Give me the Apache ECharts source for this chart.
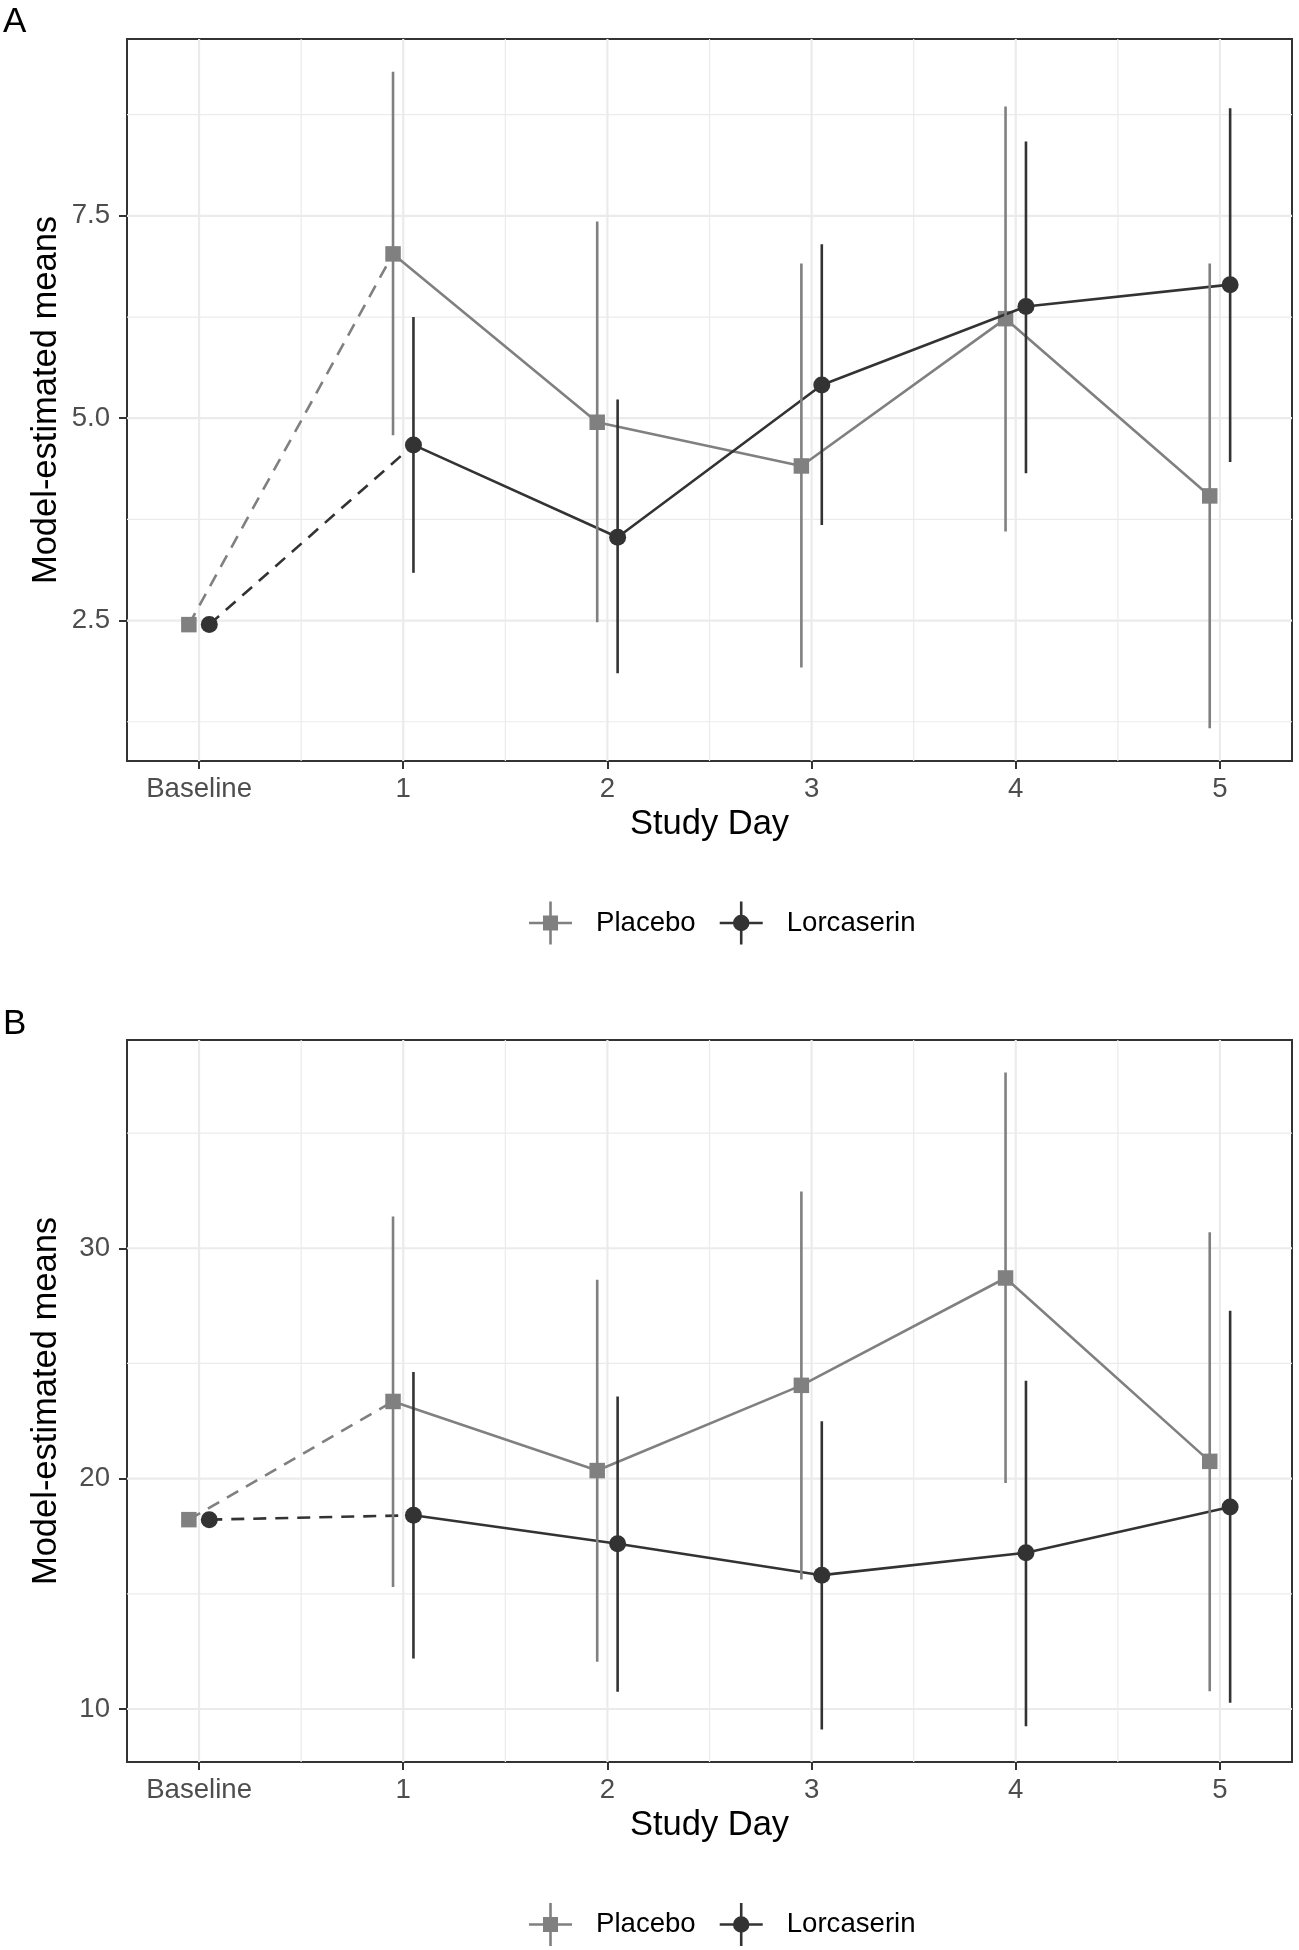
<!DOCTYPE html>
<html>
<head>
<meta charset="utf-8">
<script src="https://cdn.jsdelivr.net/npm/echarts@6/dist/echarts.min.js"></script>
<style>
html,body{margin:0;padding:0;background:#ffffff;}
#chart{width:1299px;height:1950px;}
</style>
</head>
<body>
<div id="chart"></div>
<script>
// ---------- data ----------
const categories = ['Baseline', '1', '2', '3', '4', '5'];

// Panel A
const placeboA    = [2.45, 7.03, 4.95, 4.41, 6.23, 4.04];
const placeboA_lo = [null, 4.79, 2.48, 1.92, 3.60, 1.17];
const placeboA_hi = [null, 9.28, 7.43, 6.91, 8.85, 6.91];
const lorcA       = [2.45, 4.67, 3.53, 5.41, 6.38, 6.65];
const lorcA_lo    = [null, 3.09, 1.85, 3.68, 4.32, 4.46];
const lorcA_hi    = [null, 6.25, 5.23, 7.15, 8.42, 8.83];

// Panel B
const placeboB    = [18.22, 23.35, 20.35, 24.05, 28.71, 20.75];
const placeboB_lo = [null, 15.30, 12.05, 15.62, 19.81, 10.77];
const placeboB_hi = [null, 31.38, 28.63, 32.46, 37.63, 30.70];
const lorcB       = [18.22, 18.41, 17.17, 15.81, 16.78, 18.77];
const lorcB_lo    = [null, 12.19, 10.75, 9.11, 9.25, 10.27];
const lorcB_hi    = [null, 24.63, 23.57, 22.49, 24.25, 27.29];

// tick labels / gridlines
const xTicks      = [0, 1, 2, 3, 4, 5];
const xMinor      = [0.5, 1.5, 2.5, 3.5, 4.5];
const yTicksA     = [2.5, 5.0, 7.5];
const yMinorA     = [1.25, 3.75, 6.25, 8.75];
const yTicksB     = [10, 20, 30];
const yMinorB     = [15, 25, 35];

// ---------- styling ----------
const FONT = "'Liberation Sans', Arial, Helvetica, sans-serif";
const C_PLA = '#808080';
const C_LOR = '#333333';
const DODGE = 0.05;
const LW = 2.6;

const panels = [
  { pla: placeboA, plaLo: placeboA_lo, plaHi: placeboA_hi, lor: lorcA, lorLo: lorcA_lo, lorHi: lorcA_hi,
    yMin: 0.765, yMax: 9.685, yTicks: yTicksA, yMinor: yMinorA, fmt: v => v.toFixed(1),
    top: 39, label: 'A', labelTop: 5, legendTop: 901.5 },
  { pla: placeboB, plaLo: placeboB_lo, plaHi: placeboB_hi, lor: lorcB, lorLo: lorcB_lo, lorHi: lorcB_hi,
    yMin: 7.70, yMax: 39.04, yTicks: yTicksB, yMinor: yMinorB, fmt: v => String(Math.round(v)),
    top: 1040, label: 'B', labelTop: 1006.5, legendTop: 1903 }
];

const PLOT_H = 722;
const ICON_PLA = 'path://M0,20.2H43V22.8H0Z M20.2,0H22.8V43H20.2Z M14,14H29V29H14Z';
const ICON_LOR = 'path://M0,20.2H43V22.8H0Z M20.2,0H22.8V43H20.2Z M13.25,21.5A8.25,8.25 0 1,1 29.75,21.5A8.25,8.25 0 1,1 13.25,21.5Z';

function pts(vals, off) { return vals.map((v, i) => [i + off, v]); }
function errs(lo, hi, off) {
  const out = [];
  lo.forEach((l, i) => { if (l != null) out.push([i + off, l, hi[i]]); });
  return out;
}

const grids = [], xAxes = [], yAxes = [], series = [], titles = [], legends = [];

panels.forEach((p, k) => {
  grids.push({
    left: 127, top: p.top, width: 1165, height: PLOT_H,
    show: true, borderColor: '#333333', borderWidth: 2, backgroundColor: 'transparent',
    containLabel: false, outerBoundsMode: 'none'
  });
  xAxes.push({
    type: 'value', gridIndex: k, min: -0.353, max: 5.353,
    axisLine: { show: false, onZero: false },
    splitLine: { show: false },
    axisTick: { show: true, customValues: xTicks, length: 8, lineStyle: { color: '#333333', width: 2 } },
    axisLabel: { show: true, customValues: xTicks, formatter: v => categories[Math.round(v)],
      margin: 14, fontSize: 27.6, color: '#4d4d4d', fontFamily: FONT },
    name: 'Study Day', nameLocation: 'middle', nameGap: 46, nameMoveOverlap: false,
    nameTextStyle: { fontSize: 34.5, color: '#000000', fontFamily: FONT }
  });
  yAxes.push({
    type: 'value', gridIndex: k, min: p.yMin, max: p.yMax,
    axisLine: { show: false, onZero: false },
    splitLine: { show: false },
    axisTick: { show: true, customValues: p.yTicks, length: 8, lineStyle: { color: '#333333', width: 2 } },
    axisLabel: { show: true, customValues: p.yTicks, formatter: p.fmt,
      margin: 17, fontSize: 27.6, color: '#4d4d4d', fontFamily: FONT },
    name: 'Model-estimated means', nameLocation: 'middle', nameGap: 63, nameMoveOverlap: false,
    nameTextStyle: { fontSize: 34.5, color: '#000000', fontFamily: FONT }
  });

  // gridlines (vertical)
  const vData = xTicks.map(v => [v, 1]).concat(xMinor.map(v => [v, 0]));
  series.push({
    type: 'custom', xAxisIndex: k, yAxisIndex: k, silent: true, z: 1,
    dimensions: ['v', 'm'], encode: { x: 0 },
    data: vData,
    renderItem: (params, api) => {
      const cs = params.coordSys;
      const x = api.coord([api.value(0), p.yTicks[0]])[0];
      const major = api.value(1) === 1;
      return { type: 'line', shape: { x1: x, y1: cs.y, x2: x, y2: cs.y + cs.height },
        style: { stroke: '#ebebeb', lineWidth: major ? 2.2 : 1.2 } };
    }
  });
  // gridlines (horizontal)
  const hData = p.yTicks.map(v => [v, 1]).concat(p.yMinor.map(v => [v, 0]));
  series.push({
    type: 'custom', xAxisIndex: k, yAxisIndex: k, silent: true, z: 1,
    dimensions: ['v', 'm'], encode: { y: 0 },
    data: hData,
    renderItem: (params, api) => {
      const cs = params.coordSys;
      const y = api.coord([0, api.value(0)])[1];
      const major = api.value(1) === 1;
      return { type: 'line', shape: { x1: cs.x, y1: y, x2: cs.x + cs.width, y2: y },
        style: { stroke: '#ebebeb', lineWidth: major ? 2.2 : 1.2 } };
    }
  });

  const groups = [
    { name: 'Placebo', vals: p.pla, lo: p.plaLo, hi: p.plaHi, off: -DODGE, color: C_PLA, symbol: 'rect', size: 15.5 },
    { name: 'Lorcaserin', vals: p.lor, lo: p.lorLo, hi: p.lorHi, off: DODGE, color: C_LOR, symbol: 'circle', size: 17 }
  ];
  // points
  groups.forEach(g => {
    series.push({
      type: 'scatter', name: g.name, xAxisIndex: k, yAxisIndex: k, z: 3,
      symbol: g.symbol, symbolSize: g.size,
      itemStyle: { color: g.color, opacity: 1 },
      data: pts(g.vals, g.off)
    });
  });
  // lines
  groups.forEach(g => {
    const all = pts(g.vals, g.off);
    series.push({
      type: 'line', name: g.name, xAxisIndex: k, yAxisIndex: k, z: 4,
      symbol: 'none', showSymbol: false, color: g.color,
      lineStyle: { color: g.color, width: LW, type: [13, 9] },
      data: all.slice(0, 2)
    });
    series.push({
      type: 'line', name: g.name, xAxisIndex: k, yAxisIndex: k, z: 4,
      symbol: 'none', showSymbol: false, color: g.color,
      lineStyle: { color: g.color, width: LW, type: 'solid' },
      data: all.slice(1)
    });
  });
  // error bars
  groups.forEach(g => {
    series.push({
      type: 'custom', name: g.name, xAxisIndex: k, yAxisIndex: k, z: 5,
      dimensions: ['x', 'lo', 'hi'], encode: { x: 0, y: [1, 2] },
      itemStyle: { color: g.color },
      data: errs(g.lo, g.hi, g.off),
      renderItem: (params, api) => {
        const a = api.coord([api.value(0), api.value(1)]);
        const b = api.coord([api.value(0), api.value(2)]);
        return { type: 'line', shape: { x1: a[0], y1: a[1], x2: b[0], y2: b[1] },
          style: { stroke: g.color, lineWidth: LW } };
      }
    });
  });

  titles.push({
    text: p.label, left: 3, top: p.labelTop, padding: 0,
    textStyle: { fontSize: 35, fontWeight: 'normal', color: '#000000', fontFamily: FONT }
  });
  legends.push({
    orient: 'horizontal', left: 529, top: p.legendTop, padding: 0,
    itemWidth: 43, itemHeight: 43, itemGap: 24, symbolKeepAspect: true,
    data: [{ name: 'Placebo', icon: ICON_PLA }, { name: 'Lorcaserin', icon: ICON_LOR }],
    textStyle: { fontSize: 27.6, color: '#000000', fontFamily: FONT, padding: [0, 0, 0, 19] }
  });
});

const chart = echarts.init(document.getElementById('chart'), null, { renderer: 'canvas', width: 1299, height: 1950 });
chart.setOption({
  backgroundColor: '#ffffff',
  animation: false,
  title: titles,
  legend: legends,
  grid: grids,
  xAxis: xAxes,
  yAxis: yAxes,
  series: series
});
</script>
</body>
</html>
